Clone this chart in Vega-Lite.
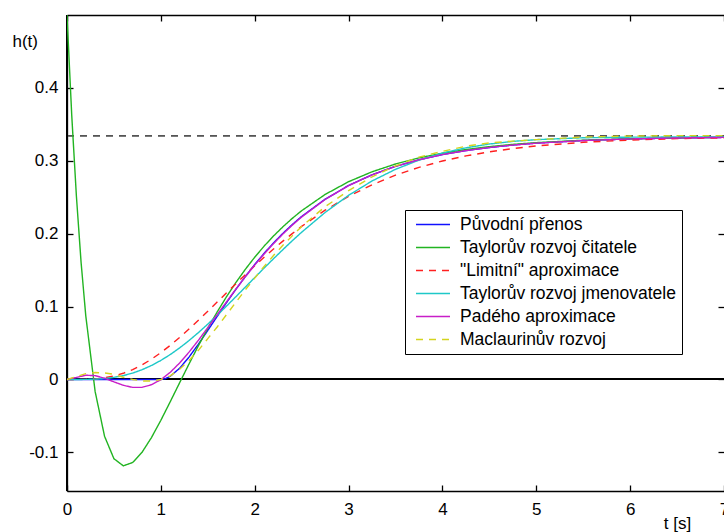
{
  "$schema": "https://vega.github.io/schema/vega-lite/v6.json",
  "width": 657,
  "height": 476,
  "autosize": {"type": "none"},
  "padding": {"left": 67, "top": 15, "right": 0, "bottom": 41},
  "background": "white",
  "config": {
    "view": {"stroke": null},
    "axis": {
      "domainColor": "black", "tickColor": "black", "domainWidth": 1.3, "tickWidth": 1.3,
      "labelColor": "black", "labelFont": "Liberation Sans", "labelFontSize": 17,
      "titleFont": "Liberation Sans", "titleFontSize": 17, "titleFontWeight": "normal", "titleColor": "black",
      "grid": false, "labelFlush": false, "labelOverlap": false
    },
    "legend": {
      "labelFont": "Liberation Sans", "labelFontSize": 17, "labelColor": "black", "labelLimit": 500
    }
  },
  "data": {
    "values": [
      {"s":"b","t":0,"h":0},{"s":"b","t":0.5,"h":0},{"s":"b","t":1.0,"h":0},{"s":"b","t":1.05,"h":0.0012},
      {"s":"b","t":1.1,"h":0.0044},{"s":"b","t":1.2,"h":0.0154},{"s":"b","t":1.3,"h":0.0307},{"s":"b","t":1.4,"h":0.0484},
      {"s":"b","t":1.5,"h":0.0673},{"s":"b","t":1.6,"h":0.0865},{"s":"b","t":1.7,"h":0.1055},{"s":"b","t":1.8,"h":0.1238},
      {"s":"b","t":1.9,"h":0.1412},{"s":"b","t":2.0,"h":0.1577},{"s":"b","t":2.1,"h":0.1730},{"s":"b","t":2.2,"h":0.1873},
      {"s":"b","t":2.3,"h":0.2004},{"s":"b","t":2.4,"h":0.2125},{"s":"b","t":2.5,"h":0.2236},{"s":"b","t":2.75,"h":0.2473},
      {"s":"b","t":3.0,"h":0.2661},{"s":"b","t":3.25,"h":0.2808},{"s":"b","t":3.5,"h":0.2924},{"s":"b","t":3.75,"h":0.3014},
      {"s":"b","t":4.0,"h":0.3085},{"s":"b","t":4.25,"h":0.3140},{"s":"b","t":4.5,"h":0.3182},{"s":"b","t":4.75,"h":0.3216},
      {"s":"b","t":5.0,"h":0.3242},{"s":"b","t":5.5,"h":0.3278},{"s":"b","t":6.0,"h":0.3300},{"s":"b","t":6.5,"h":0.3313},
      {"s":"b","t":7.0,"h":0.3321},

      {"s":"g","t":0,"h":0.5},{"s":"g","t":0.05,"h":0.3636},{"s":"g","t":0.1,"h":0.2518},{"s":"g","t":0.15,"h":0.1608},
      {"s":"g","t":0.2,"h":0.0874},{"s":"g","t":0.3,"h":-0.0167},{"s":"g","t":0.4,"h":-0.0779},{"s":"g","t":0.5,"h":-0.1087},
      {"s":"g","t":0.6,"h":-0.1185},{"s":"g","t":0.7,"h":-0.1139},{"s":"g","t":0.8,"h":-0.0998},{"s":"g","t":0.9,"h":-0.0797},
      {"s":"g","t":1.0,"h":-0.0560},{"s":"g","t":1.1,"h":-0.0305},{"s":"g","t":1.2,"h":-0.0045},{"s":"g","t":1.3,"h":0.0213},
      {"s":"g","t":1.4,"h":0.0463},{"s":"g","t":1.5,"h":0.0702},{"s":"g","t":1.6,"h":0.0926},{"s":"g","t":1.7,"h":0.1136},
      {"s":"g","t":1.8,"h":0.1331},{"s":"g","t":1.9,"h":0.1511},{"s":"g","t":2.0,"h":0.1677},{"s":"g","t":2.1,"h":0.1829},
      {"s":"g","t":2.2,"h":0.1968},{"s":"g","t":2.3,"h":0.2094},{"s":"g","t":2.4,"h":0.2210},{"s":"g","t":2.5,"h":0.2315},
      {"s":"g","t":2.75,"h":0.2538},{"s":"g","t":3.0,"h":0.2713},{"s":"g","t":3.25,"h":0.2849},{"s":"g","t":3.5,"h":0.2956},
      {"s":"g","t":3.75,"h":0.3040},{"s":"g","t":4.0,"h":0.3104},{"s":"g","t":4.25,"h":0.3155},{"s":"g","t":4.5,"h":0.3194},
      {"s":"g","t":4.75,"h":0.3225},{"s":"g","t":5.0,"h":0.3249},{"s":"g","t":5.5,"h":0.3282},{"s":"g","t":6.0,"h":0.3302},
      {"s":"g","t":6.5,"h":0.3315},{"s":"g","t":7.0,"h":0.3322},

      {"s":"r","t":0,"h":0},{"s":"r","t":0.1,"h":0.0000},{"s":"r","t":0.2,"h":0.0002},{"s":"r","t":0.3,"h":0.0008},
      {"s":"r","t":0.4,"h":0.0023},{"s":"r","t":0.5,"h":0.0048},{"s":"r","t":0.6,"h":0.0085},{"s":"r","t":0.7,"h":0.0136},
      {"s":"r","t":0.8,"h":0.0201},{"s":"r","t":0.9,"h":0.0278},{"s":"r","t":1.0,"h":0.0368},{"s":"r","t":1.1,"h":0.0468},
      {"s":"r","t":1.2,"h":0.0576},{"s":"r","t":1.3,"h":0.0692},{"s":"r","t":1.4,"h":0.0812},{"s":"r","t":1.5,"h":0.0936},
      {"s":"r","t":1.6,"h":0.1062},{"s":"r","t":1.7,"h":0.1189},{"s":"r","t":1.8,"h":0.1314},{"s":"r","t":1.9,"h":0.1438},
      {"s":"r","t":2.0,"h":0.1559},{"s":"r","t":2.1,"h":0.1676},{"s":"r","t":2.2,"h":0.1789},{"s":"r","t":2.3,"h":0.1898},
      {"s":"r","t":2.4,"h":0.2001},{"s":"r","t":2.5,"h":0.2100},{"s":"r","t":2.75,"h":0.2322},{"s":"r","t":3.0,"h":0.2512},
      {"s":"r","t":3.25,"h":0.2671},{"s":"r","t":3.5,"h":0.2803},{"s":"r","t":3.75,"h":0.2910},{"s":"r","t":4.0,"h":0.2997},
      {"s":"r","t":4.25,"h":0.3067},{"s":"r","t":4.5,"h":0.3123},{"s":"r","t":4.75,"h":0.3168},{"s":"r","t":5.0,"h":0.3204},
      {"s":"r","t":5.5,"h":0.3254},{"s":"r","t":6.0,"h":0.3285},{"s":"r","t":6.5,"h":0.3304},{"s":"r","t":7.0,"h":0.3315},

      {"s":"c","t":0,"h":0},{"s":"c","t":0.1,"h":0.0000},{"s":"c","t":0.2,"h":0.0001},{"s":"c","t":0.3,"h":0.0005},
      {"s":"c","t":0.4,"h":0.0013},{"s":"c","t":0.5,"h":0.0029},{"s":"c","t":0.6,"h":0.0053},{"s":"c","t":0.7,"h":0.0088},
      {"s":"c","t":0.8,"h":0.0134},{"s":"c","t":0.9,"h":0.0192},{"s":"c","t":1.0,"h":0.0261},{"s":"c","t":1.1,"h":0.0342},
      {"s":"c","t":1.2,"h":0.0433},{"s":"c","t":1.3,"h":0.0534},{"s":"c","t":1.4,"h":0.0643},{"s":"c","t":1.5,"h":0.0759},
      {"s":"c","t":1.6,"h":0.0881},{"s":"c","t":1.7,"h":0.1007},{"s":"c","t":1.8,"h":0.1136},{"s":"c","t":1.9,"h":0.1267},
      {"s":"c","t":2.0,"h":0.1398},{"s":"c","t":2.1,"h":0.1528},{"s":"c","t":2.2,"h":0.1656},{"s":"c","t":2.3,"h":0.1781},
      {"s":"c","t":2.4,"h":0.1903},{"s":"c","t":2.5,"h":0.2020},{"s":"c","t":2.75,"h":0.2291},{"s":"c","t":3.0,"h":0.2526},
      {"s":"c","t":3.25,"h":0.2723},{"s":"c","t":3.5,"h":0.2883},{"s":"c","t":3.75,"h":0.3009},{"s":"c","t":4.0,"h":0.3106},
      {"s":"c","t":4.25,"h":0.3178},{"s":"c","t":4.5,"h":0.3230},{"s":"c","t":4.75,"h":0.3266},{"s":"c","t":5.0,"h":0.3290},
      {"s":"c","t":5.5,"h":0.3316},{"s":"c","t":6.0,"h":0.3324},{"s":"c","t":6.5,"h":0.3326},{"s":"c","t":7.0,"h":0.3327},

      {"s":"m","t":0,"h":0},{"s":"m","t":0.1,"h":0.0028},{"s":"m","t":0.2,"h":0.0058},{"s":"m","t":0.3,"h":0.0053},
      {"s":"m","t":0.4,"h":0.0017},{"s":"m","t":0.5,"h":-0.0033},{"s":"m","t":0.6,"h":-0.0080},{"s":"m","t":0.7,"h":-0.0109},
      {"s":"m","t":0.8,"h":-0.0108},{"s":"m","t":0.9,"h":-0.0072},{"s":"m","t":1.0,"h":-0.0003},{"s":"m","t":1.1,"h":0.0098},
      {"s":"m","t":1.2,"h":0.0226},{"s":"m","t":1.3,"h":0.0375},{"s":"m","t":1.4,"h":0.0538},{"s":"m","t":1.5,"h":0.0711},
      {"s":"m","t":1.6,"h":0.0889},{"s":"m","t":1.7,"h":0.1066},{"s":"m","t":1.8,"h":0.1241},{"s":"m","t":1.9,"h":0.1409},
      {"s":"m","t":2.0,"h":0.1569},{"s":"m","t":2.1,"h":0.1721},{"s":"m","t":2.2,"h":0.1863},{"s":"m","t":2.3,"h":0.1995},
      {"s":"m","t":2.4,"h":0.2117},{"s":"m","t":2.5,"h":0.2229},{"s":"m","t":2.75,"h":0.2469},{"s":"m","t":3.0,"h":0.2659},
      {"s":"m","t":3.25,"h":0.2807},{"s":"m","t":3.5,"h":0.2924},{"s":"m","t":3.75,"h":0.3014},{"s":"m","t":4.0,"h":0.3085},
      {"s":"m","t":4.25,"h":0.3140},{"s":"m","t":4.5,"h":0.3183},{"s":"m","t":4.75,"h":0.3216},{"s":"m","t":5.0,"h":0.3242},
      {"s":"m","t":5.5,"h":0.3278},{"s":"m","t":6.0,"h":0.3300},{"s":"m","t":6.5,"h":0.3313},{"s":"m","t":7.0,"h":0.3321},

      {"s":"y","t":0,"h":0},{"s":"y","t":0.1,"h":0.004},{"s":"y","t":0.2,"h":0.008},{"s":"y","t":0.3,"h":0.0095},
      {"s":"y","t":0.4,"h":0.009},{"s":"y","t":0.5,"h":0.007},{"s":"y","t":0.6,"h":0.003},{"s":"y","t":0.7,"h":0.000},
      {"s":"y","t":0.8,"h":-0.002},{"s":"y","t":0.9,"h":-0.002},{"s":"y","t":1.0,"h":0.000},{"s":"y","t":1.1,"h":0.005},
      {"s":"y","t":1.2,"h":0.014},{"s":"y","t":1.3,"h":0.026},{"s":"y","t":1.4,"h":0.040},{"s":"y","t":1.5,"h":0.056},
      {"s":"y","t":1.6,"h":0.072},{"s":"y","t":1.7,"h":0.089},{"s":"y","t":1.8,"h":0.106},{"s":"y","t":1.9,"h":0.123},
      {"s":"y","t":2.0,"h":0.139},{"s":"y","t":2.1,"h":0.155},{"s":"y","t":2.2,"h":0.170},{"s":"y","t":2.3,"h":0.184},
      {"s":"y","t":2.4,"h":0.197},{"s":"y","t":2.5,"h":0.210},{"s":"y","t":2.75,"h":0.237},{"s":"y","t":3.0,"h":0.259},
      {"s":"y","t":3.25,"h":0.278},{"s":"y","t":3.5,"h":0.293},{"s":"y","t":3.75,"h":0.305},{"s":"y","t":4.0,"h":0.313},
      {"s":"y","t":4.25,"h":0.320},{"s":"y","t":4.5,"h":0.3245},{"s":"y","t":4.75,"h":0.327},{"s":"y","t":5.0,"h":0.329},
      {"s":"y","t":5.5,"h":0.3325},{"s":"y","t":6.0,"h":0.334},{"s":"y","t":6.5,"h":0.3345},{"s":"y","t":7.0,"h":0.3345}
    ]
  },
  "resolve": {"axis": {"x": "independent", "y": "independent"}},
  "layer": [
    {
      "mark": {"type": "rule", "color": "#7a7a7a", "strokeWidth": 1, "strokeDash": [7, 6]},
      "encoding": {
        "y": {"datum": 0.333333, "type": "quantitative", "scale": {"domain": [-0.153, 0.5], "nice": false, "zero": false}, "axis": null}
      }
    },
    {
      "mark": {"type": "rule", "color": "black", "strokeWidth": 1.3},
      "encoding": {
        "y": {"datum": 0, "type": "quantitative",
          "axis": {"orient": "right", "labels": false, "domain": false, "tickSize": -6, "values": [-0.1, 0, 0.1, 0.2, 0.3, 0.4], "title": null}}
      }
    },
    {
      "mark": {"type": "rule", "color": "black", "strokeWidth": 1.3},
      "encoding": {
        "x": {"datum": 0, "type": "quantitative", "scale": {"domain": [0, 7], "nice": false, "zero": false},
          "axis": {"orient": "top", "labels": false, "domain": true, "tickSize": -6, "values": [0, 1, 2, 3, 4, 5, 6, 7], "title": null}}
      }
    },
    {
      "mark": {"type": "line", "strokeWidth": 1.4, "clip": true},
      "encoding": {
        "x": {"field": "t", "type": "quantitative",
          "axis": {"orient": "bottom", "tickSize": -6, "labelPadding": 16, "values": [0, 1, 2, 3, 4, 5, 6, 7],
            "title": "t [s]", "titleX": 610, "titleY": 32, "titleAlign": "center", "titleBaseline": "middle"}},
        "y": {"field": "h", "type": "quantitative",
          "axis": {"orient": "left", "tickSize": -6, "labelPadding": 15, "values": [-0.1, 0, 0.1, 0.2, 0.3, 0.4],
            "labelExpr": "'' + datum.value",
            "title": "h(t)", "titleAngle": 0, "titleX": -55, "titleY": 26, "titleAlign": "left", "titleBaseline": "middle"}},
        "color": {"field": "s", "type": "nominal",
          "scale": {"domain": ["b", "g", "r", "c", "m", "y"], "range": ["#1010ff", "#22b422", "#ff2020", "#1ec8c8", "#c81ec8", "#d4d41e"]},
          "legend": {
            "title": null, "orient": "none", "legendX": 338, "legendY": 195,
            "fillColor": "white", "strokeColor": "black", "padding": 6,
            "symbolType": "stroke", "symbolSize": 1156, "symbolStrokeWidth": 1.4, "symbolOffset": 4,
            "clipHeight": 17, "rowPadding": 5, "labelOffset": 9, "labelFontSize": 17.5, "labelLimit": 500,
            "labelExpr": "datum.label == 'b' ? 'Původní přenos' : datum.label == 'g' ? 'Taylorův rozvoj čitatele' : datum.label == 'r' ? '\"Limitní\" aproximace' : datum.label == 'c' ? 'Taylorův rozvoj jmenovatele' : datum.label == 'm' ? 'Padého aproximace' : 'Maclaurinův rozvoj'"
          }},
        "strokeDash": {"field": "s", "type": "nominal",
          "scale": {"domain": ["b", "g", "r", "c", "m", "y"], "range": [[1, 0], [1, 0], [7, 6], [1, 0], [1, 0], [7, 6]]},
          "legend": null}
      }
    }
  ]
}
